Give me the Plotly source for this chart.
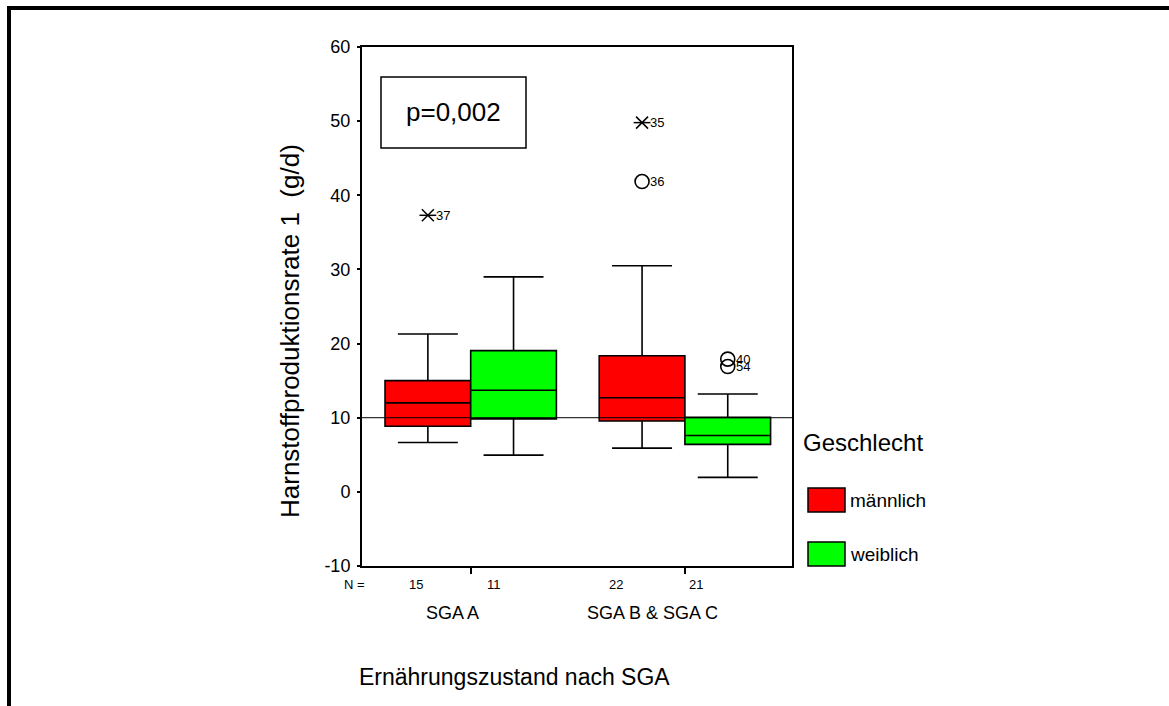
import plotly.graph_objects as go

# ---------------- data ----------------
groups = ["SGA A", "SGA B & SGA C"]
sexes = ["männlich", "weiblich"]
colors = ["#FF0000", "#00FF00"]
n_counts = [15, 11, 22, 21]
q1 = [8.85, 9.85, 9.55, 6.4]
median = [12.0, 13.7, 12.7, 7.6]
q3 = [15.0, 19.05, 18.35, 10.05]
lower = [6.65, 4.95, 5.9, 1.95]
upper = [21.3, 29.0, 30.5, 13.2]
# extreme values (asterisks): box index, value, case label
ext_box = [0, 2]
ext_val = [37.3, 49.8]
ext_lab = ["37", "35"]
# outliers (circles)
out_box = [2, 3, 3]
out_val = [41.85, 17.9, 16.9]
out_lab = ["36", "40", "54"]
ref_value = 10
p_text = "p=0,002"
y_ticks = [-10, 0, 10, 20, 30, 40, 50, 60]
y_tick_text = ["-10", "0", "10", "20", "30", "40", "50", "60"]

# ---------------- geometry ----------------
W, H = 1169, 706
L, R, T, B = 362, 792, 47, 566
group_pos = [1, 3]
box_w = 0.8
box_x = [g + d for g in group_pos for d in (-0.4, 0.4)]
box_color = [colors[i % 2] for i in range(4)]

def px(x):
    return (x - L) / (R - L)

def py(y):
    return (B - y) / (B - T)

FONT = "Liberation Sans, Arial, sans-serif"
fig = go.Figure()

for i in range(4):
    fig.add_trace(go.Box(
        x=[box_x[i]], q1=[q1[i]], median=[median[i]], q3=[q3[i]],
        lowerfence=[lower[i]], upperfence=[upper[i]],
        width=box_w, whiskerwidth=0.7, boxpoints=False,
        fillcolor=box_color[i], line=dict(color="black", width=1.6),
        showlegend=False, hoverinfo="skip"))

# extreme values: asterisk made of x + horizontal line
ex_x = [box_x[b] for b in ext_box]
for sym in ["x-thin-open", "line-ew-open"]:
    fig.add_trace(go.Scatter(
        x=ex_x, y=ext_val, mode="markers",
        marker=dict(symbol=sym, size=12, color="black", line=dict(color="black", width=1.5)),
        showlegend=False, hoverinfo="skip"))
ou_x = [box_x[b] for b in out_box]
fig.add_trace(go.Scatter(
    x=ou_x, y=out_val, mode="markers",
    marker=dict(symbol="circle-open", size=14, color="black", line=dict(color="black", width=1.6)),
    showlegend=False, hoverinfo="skip"))


def ann(x, y, text, size, xanchor="center", xref="paper", yref="paper", **kw):
    d = dict(x=x, y=y, xref=xref, yref=yref, text=text, showarrow=False,
             xanchor=xanchor, yanchor="middle", font=dict(family=FONT, size=size, color="black"))
    d.update(kw)
    return d


annotations = []
for xv, yv, lab in zip(ex_x, ext_val, ext_lab):
    annotations.append(ann(xv, yv, lab, 13, xanchor="left", xref="x", yref="y", xshift=6))
for xv, yv, lab in zip(ou_x, out_val, out_lab):
    annotations.append(ann(xv, yv, lab, 13, xanchor="left", xref="x", yref="y", xshift=6))

# reference line
fig.add_hline(y=ref_value, line=dict(color="black", width=1))

# p-value box
shapes = [dict(type="rect", xref="paper", yref="paper", x0=px(381), x1=px(526), y0=py(148), y1=py(77),
               line=dict(color="black", width=1.5), fillcolor="white", layer="below")]
annotations.append(ann(px(453.5), py(112), p_text, 26))

# N labels
annotations.append(ann(px(354), py(584), "N =", 13))
for xp, n in zip([416, 494, 615.5, 696], n_counts):
    annotations.append(ann(px(xp), py(584), str(n), 13))
# group labels
for xp, g in zip([452, 652], groups):
    annotations.append(ann(px(xp), py(613), g, 18))
# axis titles
annotations.append(ann(px(514), py(677), "Ernährungszustand nach SGA", 23))
annotations.append(ann(px(290), py(331), "Harnstoffproduktionsrate 1  (g/d)", 26, textangle=-90))

# legend (drawn)
annotations.append(ann(px(800.7), py(442), "Geschlecht", 24, xanchor="left"))
for (y0, y1), s, c in zip([(488, 512), (542, 566)], sexes, colors):
    shapes.append(dict(type="rect", xref="paper", yref="paper", x0=px(808), x1=px(845),
                       y0=py(y1), y1=py(y0), fillcolor=c, line=dict(color="black", width=1.5)))
    annotations.append(ann(px(848), py((y0 + y1) / 2), s, 19, xanchor="left"))

# page border
shapes.append(dict(type="rect", xref="paper", yref="paper", x0=px(7), x1=px(1169), y0=py(10), y1=py(6),
                   fillcolor="black", line=dict(width=0)))
shapes.append(dict(type="rect", xref="paper", yref="paper", x0=px(7), x1=px(11), y0=py(706), y1=py(6),
                   fillcolor="black", line=dict(width=0)))

fig.update_layout(
    width=W, height=H, margin=dict(l=L, r=W - R, t=T, b=H - B),
    paper_bgcolor="white", plot_bgcolor="white",
    shapes=fig.layout.shapes + tuple(shapes), annotations=annotations,
    xaxis=dict(range=[-0.015, 4.0], tickvals=group_pos, showticklabels=False, ticks="outside",
               ticklen=6, tickwidth=1.5, tickcolor="black", showgrid=False, zeroline=False,
               showline=True, linecolor="black", linewidth=2, mirror=True),
    yaxis=dict(range=[-10, 60], tickvals=y_ticks, ticktext=y_tick_text, ticks="outside", ticklen=3,
               tickwidth=1.5, tickcolor="black", showgrid=False, zeroline=False, showline=True,
               linecolor="black", linewidth=2, mirror=True, ticklabelstandoff=3,
               tickfont=dict(family=FONT, size=18, color="black")),
    showlegend=False,
)

fig.write_html("out.html")
